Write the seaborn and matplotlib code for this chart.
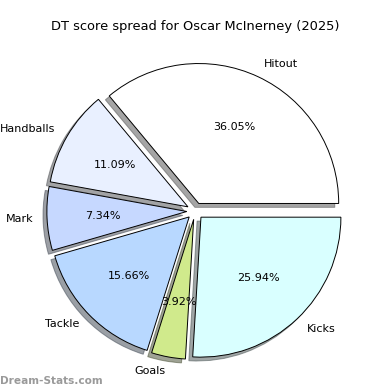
import matplotlib
matplotlib.use("Agg")
import matplotlib.pyplot as plt
import seaborn as sns

categories = ["Hitout", "Handballs", "Mark", "Tackle", "Goals", "Kicks"]
values = [36.05, 11.09, 7.34, 15.66, 3.92, 25.94]
colors = ["#ffffff", "#e9f0ff", "#c6d8ff", "#b8d8ff", "#d0ea8c", "#d9ffff"]
title = "DT score spread for Oscar McInerney (2025)"
watermark = "Dream-Stats.com"

sns.set_style("white")
plt.rcParams['font.family'] = ['DejaVu Sans']
plt.rcParams['text.color'] = 'black'

fig = plt.figure(figsize=(3.9, 3.9), dpi=100)
ax = fig.add_axes([0.052, 0.0103, 0.897, 0.897])
ax.pie(values, labels=categories, colors=colors, autopct="%1.2f%%",
       startangle=0, counterclock=True, explode=[0.06] * len(values),
       shadow=True, wedgeprops=dict(edgecolor="black", linewidth=0.7),
       textprops=dict(fontsize=8, color="black"))
ax.set_aspect("equal")
fig.text(0.5, 0.931, title, ha="center", va="center", fontsize=9.4, color="black")
fig.text(0.0, 0.024, watermark, ha="left", va="center", fontsize=7.6,
         color="#9a9a9a", fontweight="bold")
fig.savefig("out.png", dpi=100)
